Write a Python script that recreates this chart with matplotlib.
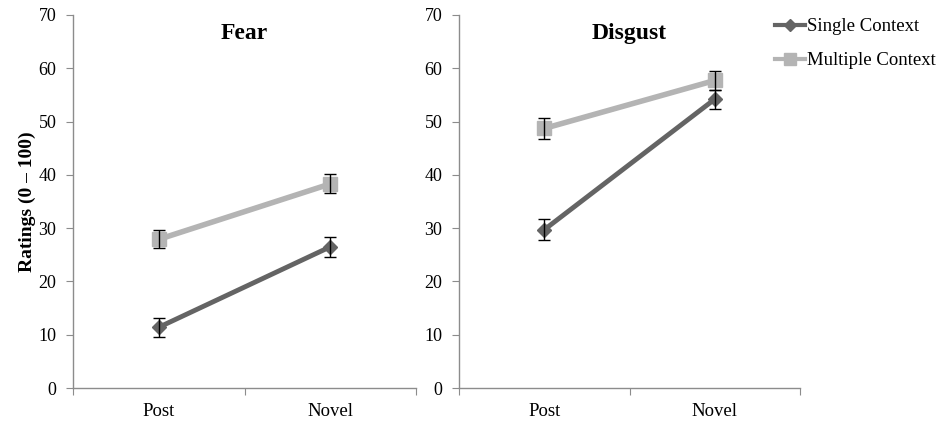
import matplotlib
matplotlib.use("Agg")
import matplotlib.pyplot as plt
from matplotlib.lines import Line2D

plt.rcParams['font.family'] = ['Liberation Serif', 'DejaVu Serif']

categories = ["Post", "Novel"]
panels = ["Fear", "Disgust"]
series_names = ["Single Context", "Multiple Context"]

fear_single = [11.4, 26.5]
fear_single_err = [1.8, 1.9]
fear_multiple = [27.9, 38.3]
fear_multiple_err = [1.7, 1.8]

disgust_single = [29.7, 54.2]
disgust_single_err = [2.0, 1.8]
disgust_multiple = [48.7, 57.7]
disgust_multiple_err = [2.0, 1.8]

yticks = [0, 10, 20, 30, 40, 50, 60, 70]

single_color = "#646464"
multiple_color = "#b4b4b4"
axis_color = "#8c8c8c"

fig = plt.figure(figsize=(9.4, 4.23), dpi=100)
ax1 = fig.add_axes([0.0777, 0.0827, 0.365, 0.882])
ax2 = fig.add_axes([0.4883, 0.0827, 0.3628, 0.882])

data = [
    (fear_single, fear_single_err, fear_multiple, fear_multiple_err),
    (disgust_single, disgust_single_err, disgust_multiple, disgust_multiple_err),
]

x = [0.5, 1.5]
for ax, title, (s, se, m, me) in zip([ax1, ax2], panels, data):
    ax.plot(x, m, color=multiple_color, lw=4, marker='s', ms=10, zorder=2)
    ax.plot(x, s, color=single_color, lw=3.5, marker='D', ms=7, zorder=3)
    ax.errorbar(x, m, yerr=me, fmt='none', ecolor='black', elinewidth=1, capsize=4, capthick=1, zorder=4)
    ax.errorbar(x, s, yerr=se, fmt='none', ecolor='black', elinewidth=1, capsize=4, capthick=1, zorder=4)
    ax.set_xlim(0, 2)
    ax.set_ylim(0, 70)
    ax.set_yticks(yticks)
    ax.set_yticklabels([str(v) for v in yticks], fontsize=13)
    ax.set_xticks([0, 1, 2])
    ax.set_xticklabels([])
    ax.set_xticks(x, minor=True)
    ax.set_xticklabels(categories, minor=True, fontsize=13.5)
    ax.tick_params(axis='x', which='minor', length=0, pad=11)
    ax.tick_params(axis='x', which='major', length=5, color=axis_color, direction='out')
    ax.tick_params(axis='y', length=5, color=axis_color, direction='out', pad=7)
    for sp in ['top', 'right']:
        ax.spines[sp].set_visible(False)
    for sp in ['left', 'bottom']:
        ax.spines[sp].set_color(axis_color)
        ax.spines[sp].set_linewidth(1)
    ax.text(0.5, 0.95, title, transform=ax.transAxes, ha='center', va='center',
            fontsize=17, fontweight='bold')

ax1.set_ylabel("Ratings (0 – 100)", fontsize=14, fontweight='bold', labelpad=2)

handles = [
    Line2D([], [], color=single_color, lw=3, marker='D', ms=6),
    Line2D([], [], color=multiple_color, lw=3, marker='s', ms=9),
]
fig.legend(handles, series_names, loc='upper left', bbox_to_anchor=(0.817, 0.975),
           frameon=False, fontsize=13.5, handlelength=1.6, handletextpad=0.1,
           labelspacing=0.9, borderaxespad=0)

fig.savefig("out.png", dpi=100)
